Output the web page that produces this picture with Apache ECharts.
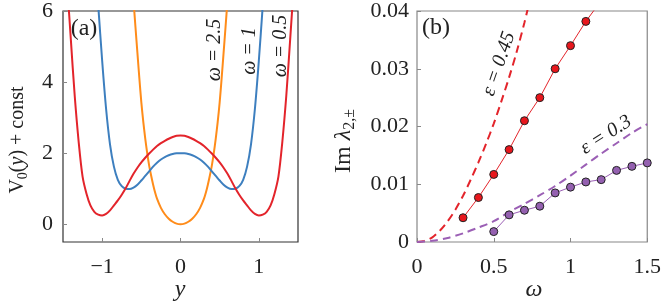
<!DOCTYPE html>
<html><head><meta charset="utf-8">
<script src="https://cdn.jsdelivr.net/npm/echarts@6/dist/echarts.min.js"></script>
<style>html,body{margin:0;padding:0;background:#fff}#c{width:664px;height:305px}</style>
</head><body><div id="c"></div>
<script>
// ---------- Panel (a): potentials V0(y)+const ----------
const yTicksA = [-1, 0, 1];
const vTicksA = [0, 2, 4, 6];
// omega = 0.5 (red)
const redY = [-1.45, -1.40, -1.35, -1.30, -1.25, -1.20, -1.15, -1.10, -1.05, -1.00, -0.95, -0.90, -0.85, -0.80, -0.75, -0.70, -0.65, -0.60, -0.55, -0.50, -0.45, -0.40, -0.35, -0.30, -0.25, -0.20, -0.15, -0.10, -0.05, 0,
              0.05, 0.10, 0.15, 0.20, 0.25, 0.30, 0.35, 0.40, 0.45, 0.50, 0.55, 0.60, 0.65, 0.70, 0.75, 0.80, 0.85, 0.90, 0.95, 1.00, 1.05, 1.10, 1.15, 1.20, 1.25, 1.30, 1.35, 1.40, 1.45];
const redV = [6.85, 5.2, 3.6, 2.32, 1.34, 0.86, 0.53, 0.35, 0.27, 0.245, 0.29, 0.39, 0.53, 0.67, 0.83, 1.01, 1.22, 1.42, 1.59, 1.74, 1.87, 1.99, 2.1, 2.2, 2.28, 2.345, 2.405, 2.455, 2.49, 2.5,
              2.49, 2.455, 2.405, 2.345, 2.28, 2.2, 2.1, 1.99, 1.87, 1.74, 1.59, 1.42, 1.22, 1.01, 0.83, 0.67, 0.53, 0.39, 0.29, 0.245, 0.27, 0.35, 0.53, 0.86, 1.34, 2.32, 3.6, 5.2, 6.85];
// omega = 1 (blue)
const blueY = [-1.10, -1.05, -1.00, -0.95, -0.90, -0.85, -0.80, -0.75, -0.70, -0.65, -0.60, -0.55, -0.50, -0.45, -0.40, -0.35, -0.30, -0.25, -0.20, -0.15, -0.10, -0.05, 0,
               0.05, 0.10, 0.15, 0.20, 0.25, 0.30, 0.35, 0.40, 0.45, 0.50, 0.55, 0.60, 0.65, 0.70, 0.75, 0.80, 0.85, 0.90, 0.95, 1.00, 1.05, 1.10];
const blueV = [7.7, 6.15, 4.6, 3.25, 2.25, 1.62, 1.25, 1.07, 1.0, 0.99, 1.03, 1.11, 1.23, 1.36, 1.49, 1.62, 1.73, 1.82, 1.89, 1.94, 1.975, 1.995, 2.0,
               1.995, 1.975, 1.94, 1.89, 1.82, 1.73, 1.62, 1.49, 1.36, 1.23, 1.11, 1.03, 0.99, 1.0, 1.07, 1.25, 1.62, 2.25, 3.25, 4.6, 6.15, 7.7];
// omega = 2.5 (orange)
const orangeY = [-0.625, -0.60, -0.575, -0.55, -0.525, -0.50, -0.475, -0.45, -0.425, -0.40, -0.375, -0.35, -0.325, -0.30, -0.25, -0.20, -0.15, -0.10, -0.05, 0,
                 0.05, 0.10, 0.15, 0.20, 0.25, 0.30, 0.325, 0.35, 0.375, 0.40, 0.425, 0.45, 0.475, 0.50, 0.525, 0.55, 0.575, 0.60, 0.625];
const orangeV = [7.1, 6.3, 5.55, 4.82, 4.1, 3.43, 2.88, 2.41, 2.0, 1.65, 1.37, 1.12, 0.9, 0.72, 0.46, 0.28, 0.155, 0.07, 0.017, 0,
                 0.017, 0.07, 0.155, 0.28, 0.46, 0.72, 0.9, 1.12, 1.37, 1.65, 2.0, 2.41, 2.88, 3.43, 4.1, 4.82, 5.55, 6.3, 7.1];

// ---------- Panel (b): Im lambda vs omega ----------
const redOmega = [0.3, 0.4, 0.5, 0.6, 0.7, 0.8, 0.9, 1.0, 1.1, 1.2];
const redIm    = [0.0042, 0.0077, 0.0117, 0.0160, 0.0210, 0.0250, 0.0300, 0.0340, 0.0382, 0.0418];
const redMarked = 9; // first 9 points carry markers; last continues the line off the top
const purpleOmega = [0.5, 0.6, 0.7, 0.8, 0.9, 1.0, 1.1, 1.2, 1.3, 1.4, 1.5];
const purpleIm    = [0.0018, 0.0047, 0.0055, 0.0062, 0.0085, 0.0095, 0.0104, 0.0108, 0.0124, 0.0131, 0.0137];
const redDashOmega = [0, 0.05, 0.1, 0.15, 0.2, 0.25, 0.3, 0.35, 0.4, 0.45, 0.5, 0.55, 0.6, 0.65, 0.7, 0.73];
const redDashIm    = [0, 0.0002, 0.0008, 0.0020, 0.0036, 0.0056, 0.0080, 0.0108, 0.0138, 0.0170, 0.0205, 0.0244, 0.0285, 0.0330, 0.0380, 0.0413];
const purpleDashOmega = [0, 0.1, 0.2, 0.3, 0.4, 0.5, 0.6, 0.7, 0.8, 0.9, 1.0, 1.1, 1.2, 1.3, 1.4, 1.5];
const purpleDashIm    = [0, 0.0002, 0.0007, 0.0015, 0.0025, 0.0036, 0.0052, 0.0066, 0.0081, 0.0097, 0.0115, 0.0134, 0.0153, 0.0171, 0.0189, 0.0204];

const zip = (a, b) => a.map((v, i) => [v, b[i]]);
const SERIF = 'Liberation Serif';
const C_RED = '#e3242b', C_BLUE = '#3d7fbf', C_ORANGE = '#ff8c1a', C_PURPLE = '#9b5fb5';
const fmtMinus = v => (v < 0 ? '\u2212' + Math.abs(v) : String(v));

const tickStyle = { show: true, inside: true, length: 4, lineStyle: { color: '#888', width: 1 } };
const lblStyle = { color: '#222', fontFamily: SERIF, fontSize: 22 };
const noLine = { show: false, onZero: false };

const chart = echarts.init(document.getElementById('c'), null, { renderer: 'canvas' });
const T = (x, y, text, size, rot, italic) => ({
  type: 'text', x, y, rotation: rot || 0,
  style: { text, font: (italic ? 'italic ' : '') + size + 'px ' + SERIF, fill: '#222',
           textAlign: 'center', textVerticalAlign: 'middle', align: 'center', verticalAlign: 'middle' }
});
const richSty = (size) => ({
  n: { fontFamily: SERIF, fontSize: size, lineHeight: size + 4, color: '#222' },
  i: { fontFamily: SERIF, fontStyle: 'italic', fontSize: size, lineHeight: size + 4, color: '#222' },
  s: { fontFamily: SERIF, fontSize: Math.round(size * 0.68), lineHeight: Math.round(size * 0.68), verticalAlign: 'bottom', color: '#222' }
});
chart.setOption({
  animation: false,
  backgroundColor: '#fff',
  grid: [
    { left: 63, top: 8, width: 235, height: 234, show: true, borderColor: '#333', borderWidth: 1.2, backgroundColor: 'transparent' },
    { left: 417, top: 9, width: 233, height: 233, show: true, borderColor: '#888', borderWidth: 1.2, backgroundColor: 'transparent' }
  ],
  xAxis: [
    { gridIndex: 0, type: 'value', min: -1.5, max: 1.5,
      axisLine: noLine, splitLine: { show: false },
      axisTick: Object.assign({ customValues: yTicksA }, tickStyle),
      axisLabel: Object.assign({ customValues: yTicksA, margin: 14, formatter: fmtMinus }, lblStyle) },
    { gridIndex: 1, type: 'value', min: 0, max: 1.5, interval: 0.5,
      axisLine: noLine, splitLine: { show: false },
      axisTick: tickStyle,
      axisLabel: Object.assign({ margin: 14 }, lblStyle) }
  ],
  yAxis: [
    { gridIndex: 0, type: 'value', min: -0.5, max: 6,
      axisLine: noLine, splitLine: { show: false },
      axisTick: Object.assign({ customValues: vTicksA }, tickStyle),
      axisLabel: Object.assign({ customValues: vTicksA, margin: 10 }, lblStyle) },
    { gridIndex: 1, type: 'value', min: 0, max: 0.04, interval: 0.01,
      axisLine: noLine, splitLine: { show: false },
      axisTick: tickStyle,
      axisLabel: Object.assign({ margin: 8 }, lblStyle) }
  ],
  series: [
    { type: 'line', xAxisIndex: 0, yAxisIndex: 0, data: zip(redY, redV), smooth: 0.3, symbol: 'none',
      lineStyle: { color: C_RED, width: 2 }, clip: true, z: 3 },
    { type: 'line', xAxisIndex: 0, yAxisIndex: 0, data: zip(blueY, blueV), smooth: 0.3, symbol: 'none',
      lineStyle: { color: C_BLUE, width: 2 }, clip: true, z: 2 },
    { type: 'line', xAxisIndex: 0, yAxisIndex: 0, data: zip(orangeY, orangeV), smooth: 0.3, symbol: 'none',
      lineStyle: { color: C_ORANGE, width: 2 }, clip: true, z: 1 },

    { type: 'line', xAxisIndex: 1, yAxisIndex: 1, data: zip(redDashOmega, redDashIm), smooth: 0.3, symbol: 'none',
      lineStyle: { color: C_RED, width: 2, type: [8, 5] }, clip: true },
    { type: 'line', xAxisIndex: 1, yAxisIndex: 1, data: zip(purpleDashOmega, purpleDashIm), smooth: 0.3, symbol: 'none',
      lineStyle: { color: C_PURPLE, width: 2, type: [8, 5] }, clip: true },
    { type: 'line', xAxisIndex: 1, yAxisIndex: 1,
      data: zip(redOmega, redIm).map((p, i) => i < redMarked ? p : { value: p, symbol: 'none' }),
      symbol: 'circle', symbolSize: 8, showAllSymbol: true,
      lineStyle: { color: C_RED, width: 1 }, itemStyle: { color: '#e8161c', borderColor: '#222', borderWidth: 1 }, clip: true, z: 4 },
    { type: 'line', xAxisIndex: 1, yAxisIndex: 1, data: zip(purpleOmega, purpleIm),
      symbol: 'circle', symbolSize: 8, showAllSymbol: true,
      lineStyle: { color: C_PURPLE, width: 1 }, itemStyle: { color: '#9460b0', borderColor: '#222', borderWidth: 1 }, clip: true, z: 4 }
  ],
  graphic: [
    T(84, 29, '(a)', 24),
    T(436, 28, '(b)', 24),
    T(215, 50, '\u03c9 = 2.5', 20, Math.PI / 2, true),
    T(249.5, 51, '\u03c9 = 1', 20, Math.PI / 2, true),
    T(281, 46, '\u03c9 = 0.5', 20, Math.PI / 2, true),
    T(499, 64, '\u03b5 = 0.45', 20, 71 * Math.PI / 180, true),
    T(606, 135, '\u03b5 = 0.3', 20, 32 * Math.PI / 180, true),
    { type: 'text', x: 18, y: 140, rotation: Math.PI / 2, style: {
        text: '{n|V}{s|0}{n|(}{i|y}{n|) + const}', fill: '#222',
        textAlign: 'center', textVerticalAlign: 'middle', align: 'center', verticalAlign: 'middle', rich: richSty(20) } },
    { type: 'text', x: 344, y: 141, rotation: Math.PI / 2, style: {
        text: '{n|Im }{i|\u03bb}{s|2,\u00b1}', fill: '#222',
        textAlign: 'center', textVerticalAlign: 'middle', align: 'center', verticalAlign: 'middle', rich: richSty(24) } },
    T(180, 290, 'y', 24, 0, true),
    T(534, 290, '\u03c9', 24, 0, true)
  ]
});
</script></body></html>
